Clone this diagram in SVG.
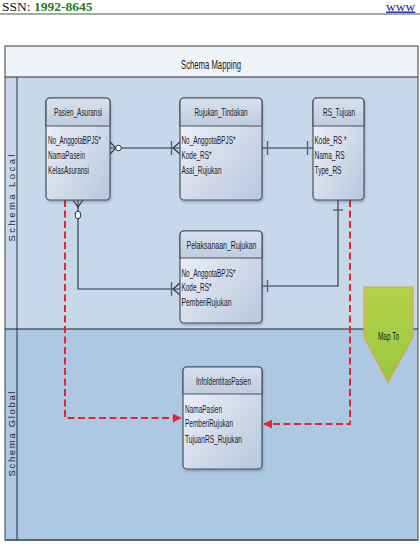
<svg xmlns="http://www.w3.org/2000/svg" width="420" height="550" viewBox="0 0 420 550">
<defs>
<style>
.et{font-family:"Liberation Sans",Arial,sans-serif;font-size:10.5px;fill:#1a1a1a;}
.ttl{text-anchor:middle;}
.lane{font-family:"Liberation Sans",Arial,sans-serif;font-size:9.5px;fill:#2a2a2a;text-anchor:middle;}
.box{fill:url(#bodyG);stroke:#4a5360;stroke-width:1.2;}
.hdr{fill:url(#hdrG);stroke:#4a5360;stroke-width:1.2;}
.sh{fill:#2a3550;opacity:0.35;filter:url(#blur);}
.rel{fill:none;stroke:#2a3040;stroke-width:1.1;}
.bar{stroke:#5a6270;stroke-width:1.4;}
.map{fill:none;stroke:#e4262f;stroke-width:2;stroke-dasharray:7 3.5;}
</style>
<linearGradient id="bodyG" x1="0" y1="0" x2="1" y2="1">
<stop offset="0" stop-color="#f2f5fb"/>
<stop offset="1" stop-color="#b8c6dc"/>
</linearGradient>
<linearGradient id="hdrG" x1="0" y1="0" x2="0" y2="1">
<stop offset="0" stop-color="#d9e1ee"/>
<stop offset="1" stop-color="#bfcbdf"/>
</linearGradient>
<linearGradient id="mapG" x1="0" y1="0" x2="0" y2="1">
<stop offset="0" stop-color="#b2d24a"/>
<stop offset="1" stop-color="#9cc640"/>
</linearGradient>
<filter id="blur" x="-20%" y="-20%" width="140%" height="140%">
<feGaussianBlur stdDeviation="1.5"/>
</filter>
<marker id="ah" viewBox="0 0 10 10" refX="9" refY="5" markerWidth="4.5" markerHeight="4.5" orient="auto" markerUnits="strokeWidth">
<path d="M0,0 L10,5 L0,10 Z" fill="#e4262f"/>
</marker>
</defs>

<!-- page header -->
<g id="pageHeader">
<text x="2" y="10.5" font-family="'Liberation Serif','Times New Roman',serif" font-size="13.5" fill="#111">SSN: <tspan fill="#1e7a1e" font-weight="bold">1992-8645</tspan></text>
<text x="386" y="10.5" font-family="'Liberation Serif','Times New Roman',serif" font-size="13.5" fill="#1a1aaa" text-decoration="underline">www</text>
<line x1="0" y1="14" x2="420" y2="14" stroke="#7d957d" stroke-width="1.6"/>
</g>

<!-- frame / lanes -->
<g id="frame">
<rect x="5" y="46" width="413" height="31" fill="#eef3fa"/>
<rect x="5" y="77" width="413" height="252" fill="#c7d8eb"/>
<rect x="5" y="329" width="413" height="211" fill="#acc8e2"/>
<rect x="5" y="46" width="413" height="494" fill="none" stroke="#555c66" stroke-width="1.2"/>
<line x1="5" y1="540" x2="418" y2="540" stroke="#5f656e" stroke-width="2"/>
<line x1="5" y1="77" x2="418" y2="77" stroke="#2a2f38" stroke-width="1"/>
<line x1="17" y1="77" x2="17" y2="540" stroke="#2a2f38" stroke-width="1"/>
<line x1="5" y1="329" x2="418" y2="329" stroke="#1e232b" stroke-width="1.1"/>
<text x="211" y="69" font-family="'Liberation Sans',Arial,sans-serif" font-size="12.5" fill="#1a1a1a" text-anchor="middle" textLength="60" lengthAdjust="spacingAndGlyphs">Schema Mapping</text>
<text class="lane" transform="translate(14.5,198) rotate(-90)" textLength="87" lengthAdjust="spacing">Schema Local</text>
<text class="lane" transform="translate(14.5,434) rotate(-90)" textLength="85" lengthAdjust="spacing">Schema Global</text>
</g>

<!-- connectors -->
<g id="connectors">
<!-- Pasien_Asuransi - Rujukan_Tindakan -->
<line class="rel" x1="110" y1="148" x2="180" y2="148"/>
<path class="rel" d="M110,142 L116,148 L110,154"/>
<circle cx="118.5" cy="148" r="2.8" fill="#fff" stroke="#2a3040" stroke-width="1"/>
<line class="bar" x1="171.5" y1="141" x2="171.5" y2="155"/>
<path class="rel" d="M180,142 L173,148 L180,154"/>
<!-- Rujukan_Tindakan - RS_Tujuan -->
<line class="rel" x1="262" y1="148" x2="313" y2="148"/>
<line class="bar" x1="267.5" y1="141" x2="267.5" y2="155"/>
<line class="bar" x1="307.5" y1="141" x2="307.5" y2="155"/>
<!-- Pasien_Asuransi - Pelaksanaan_Rujukan -->
<path class="rel" d="M78,200 V289 H180"/>
<path class="rel" d="M73,200 L78,207 L83,200"/>
<ellipse cx="78" cy="215" rx="2.8" ry="3.8" fill="#fff" stroke="#2a3040" stroke-width="1"/>
<line class="bar" x1="171.5" y1="282" x2="171.5" y2="296"/>
<path class="rel" d="M180,283 L173,289 L180,295"/>
<!-- RS_Tujuan - Pelaksanaan_Rujukan -->
<path class="rel" d="M338,200 V286 H262"/>
<line class="bar" x1="333" y1="210" x2="343" y2="210"/>
<line class="bar" x1="267.5" y1="280" x2="267.5" y2="292"/>
<!-- mapping arrows -->
<path class="map" d="M65,200 V418 H181" marker-end="url(#ah)"/>
<path class="map" d="M350,200 V424 H264" marker-end="url(#ah)"/>
</g>

<!-- entities -->
<g id="Pasien_Asuransi">
<rect class="sh" x="47" y="100" width="64" height="102" rx="4"/>
<rect class="box" x="46" y="98" width="64" height="102" rx="4"/>
<path class="hdr" d="M46,126 V102 Q46,98 50,98 H106 Q110,98 110,102 V126 Z"/>
<text class="et ttl" x="78" y="116" textLength="48" lengthAdjust="spacingAndGlyphs">Pasien_Asuransi</text>
<text class="et" x="48" y="143.5" textLength="53" lengthAdjust="spacingAndGlyphs">No_AnggotaBPJS*</text>
<text class="et" x="48" y="158.5" textLength="37" lengthAdjust="spacingAndGlyphs">NamaPasein</text>
<text class="et" x="48" y="174" textLength="41" lengthAdjust="spacingAndGlyphs">KelasAsuransi</text>
</g>

<g id="Rujukan_Tindakan">
<rect class="sh" x="181" y="100" width="82" height="102" rx="4"/>
<rect class="box" x="180" y="98" width="82" height="102" rx="4"/>
<path class="hdr" d="M180,126 V102 Q180,98 184,98 H258 Q262,98 262,102 V126 Z"/>
<text class="et ttl" x="221" y="116" textLength="53" lengthAdjust="spacingAndGlyphs">Rujukan_Tindakan</text>
<text class="et" x="181.5" y="143.5" textLength="54" lengthAdjust="spacingAndGlyphs">No_AnggotaBPJS*</text>
<text class="et" x="181.5" y="158.5" textLength="30" lengthAdjust="spacingAndGlyphs">Kode_RS*</text>
<text class="et" x="181.5" y="174" textLength="40" lengthAdjust="spacingAndGlyphs">Asal_Rujukan</text>
</g>

<g id="RS_Tujuan">
<rect class="sh" x="314" y="100" width="51" height="102" rx="4"/>
<rect class="box" x="313" y="98" width="51" height="102" rx="4"/>
<path class="hdr" d="M313,126 V102 Q313,98 317,98 H360 Q364,98 364,102 V126 Z"/>
<text class="et ttl" x="339" y="116" textLength="32" lengthAdjust="spacingAndGlyphs">RS_Tujuan</text>
<text class="et" x="314.5" y="143.5" textLength="32" lengthAdjust="spacingAndGlyphs">Kode_RS *</text>
<text class="et" x="314.5" y="158.5" textLength="30" lengthAdjust="spacingAndGlyphs">Nama_RS</text>
<text class="et" x="314.5" y="174" textLength="27" lengthAdjust="spacingAndGlyphs">Type_RS</text>
</g>

<g id="Pelaksanaan_Rujukan">
<rect class="sh" x="181" y="233" width="82" height="92" rx="4"/>
<rect class="box" x="180" y="231" width="82" height="92" rx="4"/>
<path class="hdr" d="M180,258 V235 Q180,231 184,231 H258 Q262,231 262,235 V258 Z"/>
<text class="et ttl" x="221.5" y="248.5" textLength="70" lengthAdjust="spacingAndGlyphs">Pelaksanaan_Rujukan</text>
<text class="et" x="181.5" y="276.5" textLength="54" lengthAdjust="spacingAndGlyphs">No_AnggotaBPJS*</text>
<text class="et" x="181.5" y="291" textLength="30" lengthAdjust="spacingAndGlyphs">Kode_RS*</text>
<text class="et" x="181.5" y="305.5" textLength="50" lengthAdjust="spacingAndGlyphs">PemberiRujukan</text>
</g>

<g id="InfoIdentitasPasien">
<rect class="sh" x="184" y="369" width="79" height="102" rx="4"/>
<rect class="box" x="183" y="367" width="79" height="102" rx="4"/>
<path class="hdr" d="M183,394 V371 Q183,367 187,367 H258 Q262,367 262,371 V394 Z"/>
<text class="et ttl" x="223.5" y="385" textLength="55" lengthAdjust="spacingAndGlyphs">InfoIdentitasPasien</text>
<text class="et" x="185" y="412.5" textLength="37" lengthAdjust="spacingAndGlyphs">NamaPasien</text>
<text class="et" x="185" y="427" textLength="48" lengthAdjust="spacingAndGlyphs">PemberiRujukan</text>
<text class="et" x="185" y="442.5" textLength="57" lengthAdjust="spacingAndGlyphs">TujuanRS_Rujukan</text>
</g>

<g id="MapTo">
<polygon points="364,287 413,287 413,337 388,382 364,337" fill="url(#mapG)" stroke="#e0a050" stroke-width="1.2"/>
<text class="et ttl" x="388.5" y="339.5" fill="#2a2a2a" textLength="21" lengthAdjust="spacingAndGlyphs">Map To</text>
</g>
</svg>
